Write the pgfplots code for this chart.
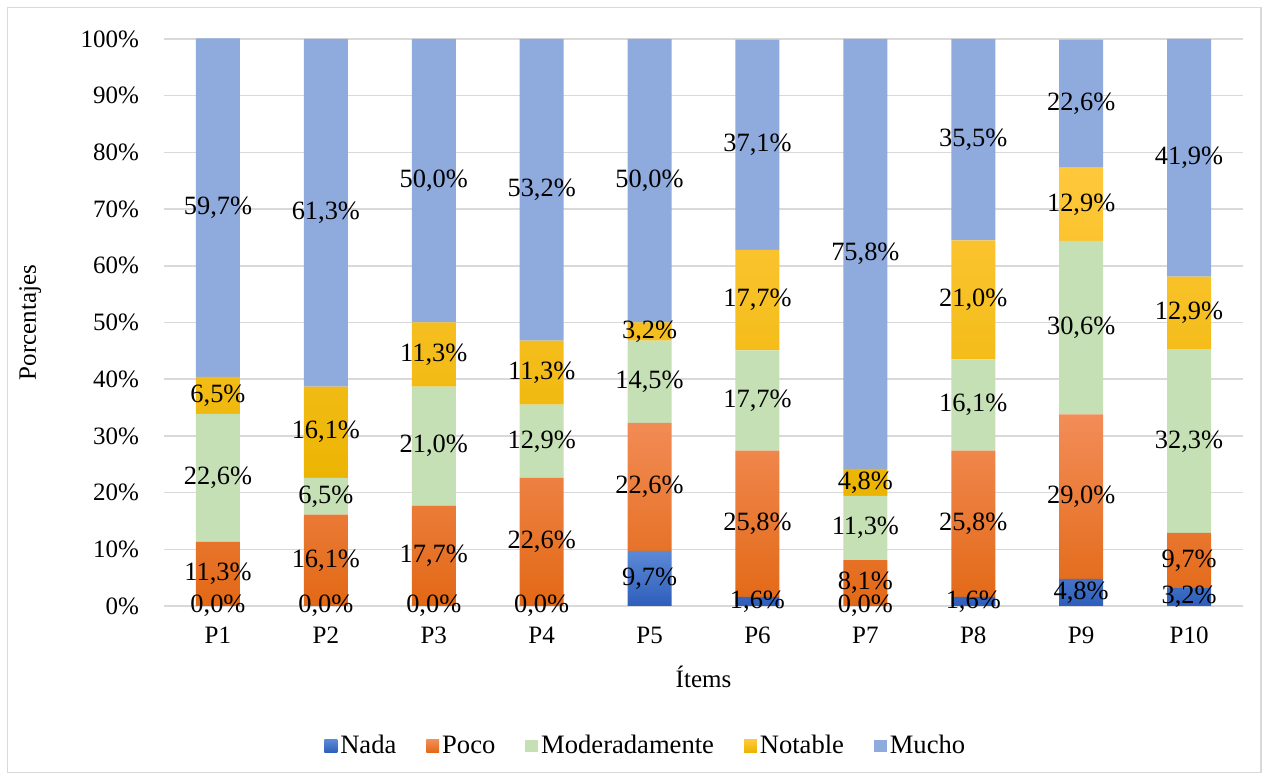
\documentclass[border=0pt]{standalone}
\usepackage{fontspec}
\setmainfont{Liberation Serif}
\usepackage{pgfplots}
\usepackage{pgfplotstable}
\pgfplotsset{compat=1.18}
\definecolor{nadaT}{HTML}{5C89D6}
\definecolor{nadaB}{HTML}{2E5EBA}
\definecolor{pocoT}{HTML}{F28D58}
\definecolor{pocoB}{HTML}{E26815}
\definecolor{modC}{HTML}{C5E0B4}
\definecolor{notT}{HTML}{FFC83C}
\definecolor{notB}{HTML}{EBB400}
\definecolor{muchoC}{HTML}{8FAADC}
\definecolor{gridc}{HTML}{D9D9D9}
% zero shares written as 0.001 so that their 0,0% label is still drawn
\pgfplotstableread{
x Nada Poco Mod Notable Mucho
0 0.001 11.3 22.6 6.5 59.7
1 0.001 16.1 6.5 16.1 61.3
2 0.001 17.7 21.0 11.3 50.0
3 0.001 22.6 12.9 11.3 53.2
4 9.7 22.6 14.5 3.2 50.0
5 1.6 25.8 17.7 17.7 37.1
6 0.001 8.1 11.3 4.8 75.8
7 1.6 25.8 16.1 21.0 35.5
8 4.8 29.0 30.6 12.9 22.6
9 3.2 9.7 32.3 12.9 41.9
}\datatable
\begin{document}
\begin{tikzpicture}[font=\fontsize{12.5}{15}\selectfont]
\useasboundingbox (0,0) rectangle (634pt,390pt);
\draw[color=gridc, line width=0.75pt] (3.75pt,3.75pt) rectangle (630.5pt,386.25pt);
\begin{axis}[
  at={(82pt,87pt)}, anchor=south west,
  scale only axis, width=539.5pt, height=283.5pt,
  ybar stacked, bar width=22pt,
  xmin=-0.5, xmax=9.5, ymin=0, ymax=100,
  clip=false,
  xtick={0,...,9}, xticklabels={P1,P2,P3,P4,P5,P6,P7,P8,P9,P10},
  ytick={0,10,...,100},
  yticklabel={\pgfmathprintnumber{\tick}\%},
  /pgf/number format/assume math mode=true,
  ymajorgrids, grid style={color=gridc, line width=0.75pt},
  axis line style={draw=none},
  tick style={draw=none},
  xticklabel style={yshift=-7pt},
  yticklabel style={xshift=-9pt},
  xlabel={Ítems}, ylabel={Porcentajes},
  xlabel style={at={(axis description cs:0.5,-0.125)}, anchor=center},
  ylabel style={at={(axis description cs:-0.124,0.5)}, anchor=center},
  legend style={at={(axis description cs:0.447,-0.247)}, anchor=center, draw=none,
    legend columns=5, /tikz/every even column/.append style={column sep=13.5pt},
    inner sep=0pt, font=\fontsize{13.3}{16}\selectfont, nodes={inner xsep=1.5pt}},
  legend image code/.code={\path[#1, draw=none] (0pt,-3.2pt) rectangle (6.4pt,3.2pt);},
  nodes near coords={\pgfmathprintnumber[fixed, fixed zerofill, precision=1, use comma]{\rawy}\%},
  visualization depends on=rawy \as \rawy,
  every node near coord/.append style={anchor=center, text=black, font=\fontsize{13.2}{15}\selectfont},
]
\addplot[draw=none, top color=nadaT, bottom color=nadaB] table[x=x, y=Nada] \datatable;
\addplot[draw=none, top color=pocoT, bottom color=pocoB] table[x=x, y=Poco] \datatable;
\addplot[draw=none, fill=modC] table[x=x, y=Mod] \datatable;
\addplot[draw=none, top color=notT, bottom color=notB] table[x=x, y=Notable] \datatable;
\addplot[draw=none, fill=muchoC] table[x=x, y=Mucho] \datatable;
\legend{Nada,Poco,Moderadamente,Notable,Mucho}
\end{axis}
\end{tikzpicture}
\end{document}
